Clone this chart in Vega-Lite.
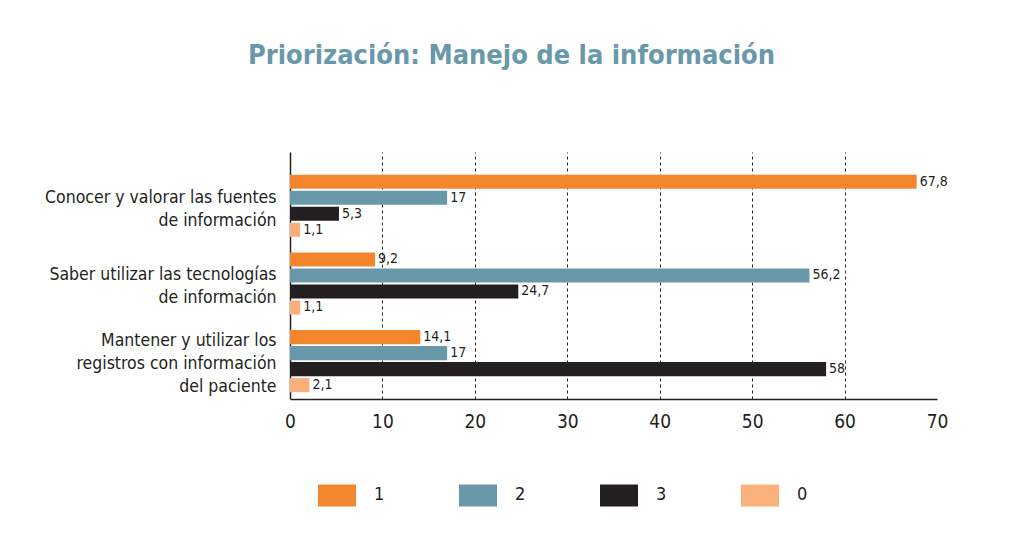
{
  "$schema": "https://vega.github.io/schema/vega-lite/v6.json",
  "width": 647,
  "height": 247,
  "autosize": {"type": "none"},
  "padding": {"left": 290, "top": 152, "right": 72, "bottom": 139},
  "background": "white",
  "title": {
    "text": "Priorización: Manejo de la información",
    "fontSize": 27,
    "fontWeight": "bold",
    "color": "#6A98AB",
    "font": "DejaVu Sans Condensed",
    "anchor": "middle",
    "dx": -102,
    "offset": 82
  },
  "config": {
    "view": {"stroke": null},
    "font": "DejaVu Sans Condensed",
    "locale": {"number": {"decimal": ",", "thousands": ".", "grouping": [3], "currency": ["", " €"]}}
  },
  "data": {
    "values": [
      {"cat": "Conocer y valorar las fuentes|de información", "grupo": "1", "valor": 67.8},
      {"cat": "Conocer y valorar las fuentes|de información", "grupo": "2", "valor": 17},
      {"cat": "Conocer y valorar las fuentes|de información", "grupo": "3", "valor": 5.3},
      {"cat": "Conocer y valorar las fuentes|de información", "grupo": "0", "valor": 1.1},
      {"cat": "Saber utilizar las tecnologías|de información", "grupo": "1", "valor": 9.2},
      {"cat": "Saber utilizar las tecnologías|de información", "grupo": "2", "valor": 56.2},
      {"cat": "Saber utilizar las tecnologías|de información", "grupo": "3", "valor": 24.7},
      {"cat": "Saber utilizar las tecnologías|de información", "grupo": "0", "valor": 1.1},
      {"cat": "Mantener y utilizar los|registros con información|del paciente", "grupo": "1", "valor": 14.1},
      {"cat": "Mantener y utilizar los|registros con información|del paciente", "grupo": "2", "valor": 17},
      {"cat": "Mantener y utilizar los|registros con información|del paciente", "grupo": "3", "valor": 58},
      {"cat": "Mantener y utilizar los|registros con información|del paciente", "grupo": "0", "valor": 2.1}
    ]
  },
  "encoding": {
    "y": {
      "field": "cat",
      "type": "nominal",
      "sort": null,
      "scale": {"paddingInner": 0.2, "paddingOuter": 0.19, "align": 0.77},
      "axis": {
        "title": null,
        "ticks": false,
        "domainColor": "#231F20",
        "domainWidth": 1.5,
        "labelFontSize": 17.5,
        "labelColor": "#231F20",
        "labelPadding": 14,
        "labelLineHeight": 23,
        "labelLimit": 400,
        "labelOffset": {"condition": {"test": "indexof(datum.value, 'Mantener') >= 0", "value": -20}, "value": -8}
        ,
        "labelExpr": "split(datum.label, '|')"
      }
    },
    "yOffset": {
      "field": "grupo",
      "type": "nominal",
      "sort": ["1", "2", "3", "0"],
      "scale": {"paddingInner": 0.12}
    },
    "x": {
      "field": "valor",
      "type": "quantitative",
      "scale": {"domain": [0, 70], "nice": false},
      "axis": {
        "title": null,
        "values": [0, 10, 20, 30, 40, 50, 60, 70],
        "ticks": false,
        "labelFlush": false,
        "domainColor": "#231F20",
        "domainWidth": 1.5,
        "labelFontSize": 19,
        "labelColor": "#231F20",
        "labelPadding": 13,
        "grid": true,
        "gridColor": "#231F20",
        "gridDash": [3, 3],
        "gridWidth": 1,
        "gridOpacity": {"condition": {"test": "datum.value == 0 || datum.value == 70", "value": 0}, "value": 1}
      }
    }
  },
  "layer": [
    {
      "mark": {"type": "bar"},
      "encoding": {
        "color": {
          "field": "grupo",
          "type": "nominal",
          "scale": {"domain": ["1", "2", "3", "0"], "range": ["#F3862C", "#6A98AB", "#231F20", "#F9B07B"]},
          "legend": {
            "title": null,
            "orient": "none",
            "legendX": 28,
            "legendY": 324,
            "direction": "horizontal",
            "columns": 4,
            "padding": 0,
            "symbolType": "M-1,-0.58H1V0.58H-1Z",
            "symbolSize": 1444,
            "symbolStrokeWidth": 0,
            "labelFontSize": 18,
            "labelColor": "#231F20",
            "labelOffset": 18,
            "columnPadding": 74
          }
        }
      }
    },
    {
      "mark": {"type": "text", "align": "left", "baseline": "middle", "dx": 3, "fontSize": 14, "color": "#231F20"},
      "encoding": {
        "text": {"field": "valor", "type": "quantitative", "format": ".1~f"}
      }
    }
  ]
}
